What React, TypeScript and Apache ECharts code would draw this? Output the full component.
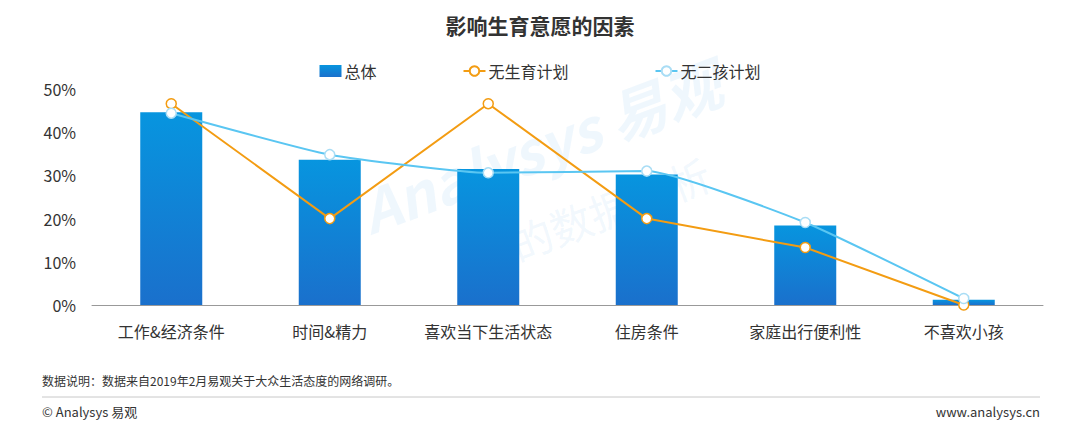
import React, { useEffect, useRef } from "react";
import * as echarts from "echarts";

const categories = ["工作&经济条件", "时间&精力", "喜欢当下生活状态", "住房条件", "家庭出行便利性", "不喜欢小孩"];
const totalValues = [44.6, 33.6, 31.5, 30.2, 18.4, 1.2];
const noBirthPlan = [46.6, 20.0, 46.6, 20.0, 13.3, 0];
const noSecondChildPlan = [44.4, 34.8, 30.6, 31.0, 19.1, 1.5];
const seriesNames = ["总体", "无生育计划", "无二孩计划"];
const title = "影响生育意愿的因素";
const note = "数据说明：数据来自2019年2月易观关于大众生活态度的网络调研。";
const copyright = "© Analysys 易观";
const site = "www.analysys.cn";

const FONT = "'Noto Sans CJK SC', 'Noto Sans', sans-serif";

export default function App() {
  const ref = useRef<HTMLDivElement>(null);
  useEffect(() => {
    if (!ref.current) return;
    const chart = echarts.init(ref.current, undefined, { renderer: "svg" });
    chart.setOption({
      animation: false,
      backgroundColor: "#fff",
      textStyle: { fontFamily: FONT },
      title: {
        text: title,
        left: "center",
        top: 9,
        textStyle: { fontSize: 21, fontWeight: "bold", color: "#333", fontFamily: FONT },
      },
      legend: {
        top: 58,
        left: "center",
        itemGap: 86,
        itemWidth: 22,
        itemHeight: 12,
        textStyle: { fontSize: 16, color: "#333", fontFamily: FONT, padding: [0, 0, 0, -2] },
        data: [
          { name: seriesNames[0], icon: "rect" },
          { name: seriesNames[1] },
          { name: seriesNames[2] },
        ],
      },
      grid: { left: 92, right: 37, top: 89, bottom: 138 },
      xAxis: {
        type: "category",
        data: categories,
        axisLine: { lineStyle: { color: "#999" } },
        axisTick: { show: false },
        axisLabel: { fontSize: 16, color: "#333", margin: 18, interval: 0, fontFamily: FONT },
      },
      yAxis: {
        type: "value",
        min: 0,
        max: 50,
        interval: 10,
        splitLine: { show: false },
        axisLine: { show: false },
        axisTick: { show: false },
        axisLabel: { fontSize: 16, color: "#333", formatter: "{value}%", margin: 16, fontFamily: FONT },
      },
      graphic: [
        {
          type: "text",
          x: 540,
          y: 145,
          rotation: 0.36,
          z: -10,
          style: {
            text: "Analysys 易观",
            fill: "rgba(120,190,235,0.12)",
            fontSize: 58,
            fontWeight: "bold",
            fontStyle: "italic",
            fontFamily: FONT,
            align: "center",
            verticalAlign: "middle",
          },
        },
        {
          type: "text",
          x: 590,
          y: 215,
          rotation: 0.36,
          z: -10,
          style: {
            text: "你的数据分析",
            fill: "rgba(120,190,235,0.11)",
            fontSize: 42,
            fontFamily: FONT,
            align: "center",
            verticalAlign: "middle",
          },
        },
        {
          type: "text",
          left: 42,
          top: 374,
          style: { text: note, fontSize: 12, fill: "#333", fontFamily: FONT },
        },
        {
          type: "line",
          shape: { x1: 42, y1: 397, x2: 1040, y2: 397 },
          style: { stroke: "#c8c8c8", lineWidth: 1 },
        },
        {
          type: "text",
          left: 42,
          top: 405,
          style: { text: copyright, fontSize: 13, fill: "#333", fontFamily: FONT },
        },
        {
          type: "text",
          right: 40,
          top: 405,
          style: { text: site, fontSize: 13, fill: "#333", fontFamily: FONT },
        },
      ],
      series: [
        {
          name: seriesNames[0],
          type: "bar",
          data: totalValues,
          barWidth: 62,
          itemStyle: {
            color: new echarts.graphic.LinearGradient(0, 0, 0, 1, [
              { offset: 0, color: "#0795DF" },
              { offset: 1, color: "#1A70CC" },
            ]),
          },
        },
        {
          name: seriesNames[1],
          type: "line",
          data: noBirthPlan,
          symbol: "circle",
          symbolSize: 10,
          lineStyle: { color: "#F39C12", width: 2 },
          itemStyle: { color: "#fff", borderColor: "#F39C12", borderWidth: 1.5 },
          color: "#F39C12",
        },
        {
          name: seriesNames[2],
          type: "line",
          data: noSecondChildPlan,
          smooth: 0.15,
          symbol: "circle",
          symbolSize: 10,
          lineStyle: { color: "#5AC6F2", width: 2 },
          itemStyle: { color: "#fff", borderColor: "#A9DDF5", borderWidth: 1.5 },
          color: "#5AC6F2",
        },
      ],
    });
    return () => chart.dispose();
  }, []);
  return <div ref={ref} style={{ width: 1080, height: 443, position: "absolute", left: 0, top: 0 }} />;
}
